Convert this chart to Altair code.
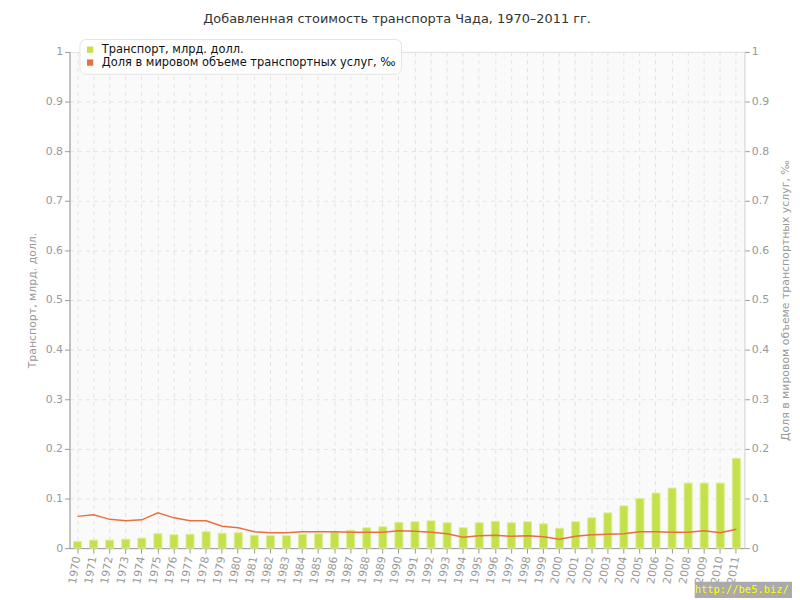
import altair as alt
import pandas as pd

years = [str(y) for y in range(1970, 2012)]
transport = [0.013, 0.016, 0.016, 0.018, 0.020, 0.029, 0.027, 0.028, 0.033, 0.030,
             0.031, 0.026, 0.025, 0.025, 0.028, 0.029,
             0.033, 0.036, 0.041, 0.043, 0.052, 0.053, 0.055, 0.051, 0.041, 0.051,
             0.054, 0.051, 0.053, 0.049,
             0.040, 0.053, 0.061, 0.071, 0.085, 0.100, 0.111, 0.121, 0.131, 0.131,
             0.131, 0.181]
share = [0.064, 0.067, 0.058, 0.055, 0.057, 0.071, 0.061, 0.055, 0.055, 0.044,
         0.041, 0.033, 0.031, 0.031, 0.033, 0.033,
         0.033, 0.032, 0.032, 0.032, 0.035, 0.034, 0.032, 0.029, 0.022, 0.025,
         0.026, 0.024, 0.025, 0.023,
         0.018, 0.024, 0.027, 0.028, 0.029, 0.033, 0.033, 0.032, 0.032, 0.035,
         0.031, 0.038]
series_names = ["Транспорт, млрд. долл.", "Доля в мировом объеме транспортных услуг, ‰"]
series_colors = ["#c4e04a", "#e8703f"]
y_ticks = [0, 0.1, 0.2, 0.3, 0.4, 0.5, 0.6, 0.7, 0.8, 0.9, 1]
chart_title = "Добавленная стоимость транспорта Чада, 1970–2011 гг."
watermark = ["http://be5.biz/"]

FONT = "DejaVu Sans"
GRAY = "#999999"

df = pd.DataFrame({"year": years, "transport": transport, "share": share,
                   "series": series_names[0]})

x_enc = alt.X("year:N",
              scale=alt.Scale(paddingInner=0.5, paddingOuter=0.25),
              axis=alt.Axis(title=None, labelAngle=280, labelFont=FONT, labelFontSize=11,
                            labelColor=GRAY, tickColor=GRAY, domainColor=GRAY,
                            tickSize=5, labelPadding=3, grid=True,
                            gridColor="#e3e3e3", gridDash=[4, 4]))

bars = alt.Chart(df).mark_bar(stroke="#dcef95", strokeWidth=1).encode(
    x=x_enc,
    y=alt.Y("transport:Q",
            scale=alt.Scale(domain=[0, 1], nice=False),
            axis=alt.Axis(orient="left", title=series_names[0], values=y_ticks, format="~g",
                          labelFont=FONT, labelFontSize=11, labelColor=GRAY,
                          titleFont=FONT, titleFontSize=11, titleColor=GRAY,
                          titleFontWeight="normal", titlePadding=8,
                          tickColor=GRAY, domainColor=GRAY, tickSize=5,
                          grid=True, gridColor="#e3e3e3", gridDash=[4, 4])),
    color=alt.Color("series:N",
                    scale=alt.Scale(domain=series_names, range=series_colors),
                    legend=alt.Legend(title=None, orient="none", legendX=10, legendY=-13,
                                      fillColor="white", strokeColor="#e4e4e4",
                                      cornerRadius=6, padding=5, symbolType="square",
                                      symbolSize=40, symbolStrokeWidth=0,
                                      labelFont=FONT, labelFontSize=11.5,
                                      labelColor="#111", labelLimit=500, rowPadding=0,
                                      labelOffset=6)),
)

line = alt.Chart(df).mark_line(color=series_colors[1], strokeWidth=1.5).encode(
    x=x_enc,
    y=alt.Y("share:Q",
            scale=alt.Scale(domain=[0, 1], nice=False),
            axis=alt.Axis(orient="right", title=series_names[1], values=y_ticks, format="~g",
                          labelFont=FONT, labelFontSize=11, labelColor=GRAY,
                          titleFont=FONT, titleFontSize=11, titleColor=GRAY,
                          titleFontWeight="normal", titlePadding=22, titleAngle=270,
                          tickColor=GRAY, domainColor="#dddddd", tickSize=5, grid=False)),
)

wm_df = pd.DataFrame({"t": watermark})
wm_rect = alt.Chart(wm_df).mark_rect(color="#aaaaaa").encode(
    x=alt.value(630), x2=alt.value(732), y=alt.value(534), y2=alt.value(552))
wm_text = alt.Chart(wm_df).mark_text(color="#ffff00", font="DejaVu Sans Mono", fontSize=10.5,
                                     align="left", baseline="middle").encode(
    x=alt.value(630), y=alt.value(542), text="t:N")

chart = alt.layer(bars, line, wm_rect, wm_text).resolve_scale(y="independent").properties(
    width=680, height=500,
    title=alt.TitleParams(chart_title, font=FONT, fontSize=13, fontWeight="normal",
                          color="#333333", anchor="middle", dx=-10, offset=13),
    autosize=alt.AutoSizeParams(type="none"),
    padding={"left": 62, "top": 42, "right": 48, "bottom": 48},
).configure_view(fill="#fafafa", stroke="#e0e0e0")

chart.save("out.html", embed_options={"renderer": "svg", "actions": False})
